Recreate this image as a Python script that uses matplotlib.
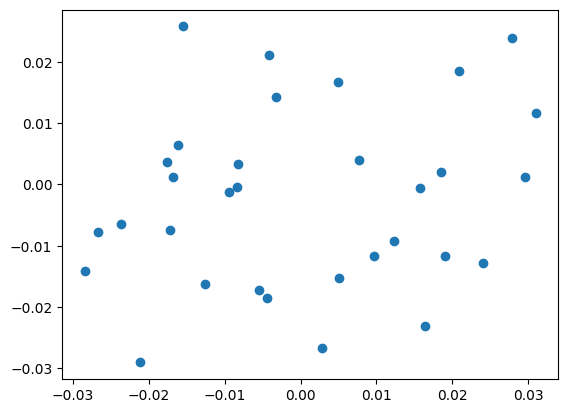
import matplotlib
matplotlib.use("Agg")
import matplotlib.pyplot as plt

x = [-0.01555, -0.00422, -0.00329, 0.00487, 0.0278, 0.02082, 0.03096, 0.00764,
     -0.0162, -0.01765, -0.01686, -0.0083, -0.00843, -0.00949, 0.01568, 0.01845,
     0.02951, -0.02675, -0.02372, -0.01726, -0.02846, -0.01265, -0.00553, -0.00448,
     0.00501, 0.00962, 0.01225, 0.01897, 0.02398, 0.01634, 0.00277, -0.02121]
y = [0.02577, 0.02104, 0.01419, 0.01664, 0.02382, 0.01843, 0.01158, 0.00392,
     0.00636, 0.00359, 0.00114, 0.00326, -0.00049, -0.0013, -0.00065, 0.00196,
     0.00114, -0.00783, -0.00653, -0.0075, -0.01419, -0.01631, -0.01729, -0.0186,
     -0.01533, -0.01175, -0.0093, -0.01175, -0.01289, -0.02316, -0.02675, -0.02904]

fig, ax = plt.subplots(figsize=(6.4, 4.8), dpi=100)
ax.scatter(x, y)
fig.savefig("out.png", bbox_inches="tight")
